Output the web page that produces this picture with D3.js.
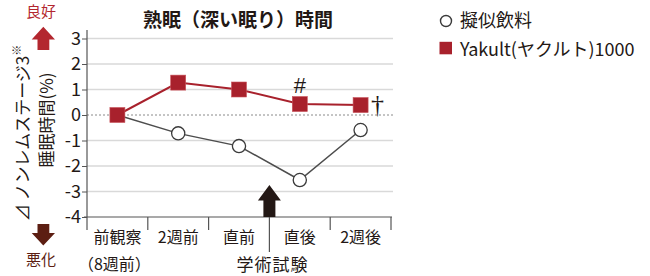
<!DOCTYPE html>
<html>
<head>
<meta charset="utf-8">
<script src="https://cdn.jsdelivr.net/npm/d3@7"></script>
<style>
  body { margin: 0; background: #fff; }
  text { font-family: "Noto Sans CJK JP", "Noto Sans", sans-serif; fill: #231815; }
</style>
</head>
<body>
<div id="chart"></div>
<script>
//////////////////////////////// data ////////////////////////////////
var categories = ["前観察", "2週前", "直前", "直後", "2週後"];
var subLabels = ["（8週前）", "", "", "", ""];
var placebo = [0, -0.72, -1.22, -2.55, -0.59];
var yakult = [0, 1.27, 1.0, 0.43, 0.39];
var yTicks = [3, 2, 1, 0, -1, -2, -3, -4];
var seriesNames = ["擬似飲料", "Yakult(ヤクルト)1000"];
var notes = [{ i: 3, mark: "#" }, { i: 4, mark: "†" }];

var width = 650, height = 276;
var red = "#a8212c", dark = "#5c1e12", grey = "#4d4d4d", good = "#b3272f";

var svg = d3.select("#chart").append("svg")
  .attr("width", width)
  .attr("height", height);

//////////////////////////////// scales ////////////////////////////////
var x = d3.scaleBand().domain(categories).range([87, 391]);
var y = d3.scaleLinear().domain([-4, 3]).range([217, 38.5]);
var cx = function(i) { return x(categories[i]) + x.bandwidth() / 2; };

// grid lines
svg.append("g").selectAll("line")
  .data(yTicks.filter(function(d) { return d !== 0 && d !== -4; }))
  .enter().append("line")
  .attr("x1", 87).attr("x2", 393)
  .attr("y1", function(d) { return y(d); })
  .attr("y2", function(d) { return y(d); })
  .attr("stroke", "#d9d9d9")
  .attr("stroke-width", 1.3);

svg.append("line")
  .attr("x1", 87).attr("x2", 393)
  .attr("y1", y(0)).attr("y2", y(0))
  .attr("stroke", "#8a8a8a")
  .attr("stroke-width", 1)
  .attr("stroke-dasharray", "2,2");

// y axis (plain hyphen for negatives, like the original)
var yAxis = svg.append("g")
  .attr("transform", "translate(87,0)")
  .call(d3.axisLeft(y).tickValues(yTicks).tickFormat(function(d) { return String(d); })
    .tickSizeInner(5).tickSizeOuter(0).tickPadding(1));
yAxis.select(".domain").remove();
yAxis.selectAll(".tick line").attr("stroke", "#555");
yAxis.selectAll(".tick text")
  .attr("font-size", 18)
  .attr("font-family", "'Noto Sans CJK JP', sans-serif");
svg.append("line")
  .attr("x1", 87).attr("x2", 87)
  .attr("y1", y(3.33)).attr("y2", y(-4))
  .attr("stroke", "#555").attr("stroke-width", 1.2);

// x axis
svg.append("line")
  .attr("x1", 84).attr("x2", 392)
  .attr("y1", y(-4)).attr("y2", y(-4))
  .attr("stroke", "#555").attr("stroke-width", 1.2);

var edges = categories.map(function(c) { return x(c); }).concat([x.range()[1]]);
svg.append("g").selectAll("line")
  .data(edges)
  .enter().append("line")
  .attr("x1", function(d) { return d; })
  .attr("x2", function(d) { return d; })
  .attr("y1", y(-4))
  .attr("y2", function(d, i) { return i === 3 ? 252 : 230; })
  .attr("stroke", "#555")
  .attr("stroke-width", 1.2);

svg.append("g").selectAll("text")
  .data(categories)
  .enter().append("text")
  .attr("x", function(d, i) { return cx(i); })
  .attr("y", 236)
  .attr("text-anchor", "middle")
  .attr("dominant-baseline", "central")
  .attr("font-size", 16)
  .text(function(d) { return d; });

svg.append("g").selectAll("text")
  .data(subLabels)
  .enter().append("text")
  .attr("x", function(d, i) { return cx(i) - 3; })
  .attr("y", 263)
  .attr("text-anchor", "middle")
  .attr("dominant-baseline", "central")
  .attr("font-size", 16)
  .text(function(d) { return d; });

svg.append("text")
  .attr("x", x(categories[3]) + 3)
  .attr("y", 263)
  .attr("text-anchor", "middle")
  .attr("dominant-baseline", "central")
  .attr("font-size", 17)
  .attr("letter-spacing", 1)
  .text("学術試験");

// exam arrow
var ax = x(categories[3]);
svg.append("path")
  .attr("d", d3.line()([[ax - 6, y(-4)], [ax - 6, 200.5], [ax - 11.5, 200.5], [ax, 185],
    [ax + 11.5, 200.5], [ax + 6, 200.5], [ax + 6, y(-4)]]) + "Z")
  .attr("fill", "#231815");

//////////////////////////////// series ////////////////////////////////
var line = d3.line()
  .x(function(d, i) { return cx(i); })
  .y(function(d) { return y(d); });

svg.append("path")
  .attr("d", line(placebo))
  .attr("fill", "none")
  .attr("stroke", grey)
  .attr("stroke-width", 1.5);

svg.append("path")
  .attr("d", line(yakult))
  .attr("fill", "none")
  .attr("stroke", red)
  .attr("stroke-width", 2);

svg.append("g").selectAll("circle")
  .data(placebo.slice(1))
  .enter().append("circle")
  .attr("cx", function(d, i) { return cx(i + 1); })
  .attr("cy", function(d) { return y(d); })
  .attr("r", 6.6)
  .attr("fill", "#fff")
  .attr("stroke", "#3a3a3a")
  .attr("stroke-width", 1.3);

svg.append("g").selectAll("rect")
  .data(yakult)
  .enter().append("rect")
  .attr("x", function(d, i) { return cx(i) - 7.5; })
  .attr("y", function(d) { return y(d) - 7.5; })
  .attr("width", 15).attr("height", 15)
  .attr("fill", red)
  .attr("stroke", "#c9545c")
  .attr("stroke-width", 0.6);

// significance marks
svg.append("text")
  .attr("x", cx(notes[0].i))
  .attr("y", y(yakult[notes[0].i]) - 19)
  .attr("text-anchor", "middle")
  .attr("dominant-baseline", "central")
  .attr("font-size", 22)
  .style("font-family", "'Liberation Sans', sans-serif")
  .text(notes[0].mark);
svg.append("text")
  .attr("x", cx(notes[1].i) + 17)
  .attr("y", y(yakult[notes[1].i]) - 1)
  .attr("text-anchor", "middle")
  .attr("dominant-baseline", "central")
  .attr("font-size", 26)
  .style("font-family", "'Liberation Serif', serif")
  .text(notes[1].mark);

//////////////////////////////// title ////////////////////////////////
svg.append("text")
  .attr("x", 238)
  .attr("y", 18)
  .attr("text-anchor", "middle")
  .attr("dominant-baseline", "central")
  .attr("font-size", 19)
  .attr("font-weight", "bold")
  .text("熟眠（深い眠り）時間");

//////////////////////////////// legend ////////////////////////////////
var legend = svg.append("g");
legend.append("circle")
  .attr("cx", 446).attr("cy", 21).attr("r", 5.5)
  .attr("fill", "#fff").attr("stroke", "#3a3a3a").attr("stroke-width", 1.4);
legend.append("rect")
  .attr("x", 439.5).attr("y", 41.8).attr("width", 12.5).attr("height", 12.5)
  .attr("fill", red);
legend.selectAll("text")
  .data(seriesNames)
  .enter().append("text")
  .attr("x", 460)
  .attr("y", function(d, i) { return 19 + i * 29; })
  .attr("dominant-baseline", "central")
  .attr("font-size", 18)
  .text(function(d) { return d; });

//////////////////////////////// left side ////////////////////////////////
svg.append("text")
  .attr("x", 41).attr("y", 10)
  .attr("text-anchor", "middle").attr("dominant-baseline", "central")
  .attr("font-size", 15).style("fill", good)
  .text("良好");
svg.append("path")
  .attr("d", "M43.3,26.7 L55,39.5 L49.3,39.5 L49.3,50 L37.5,50 L37.5,39.5 L31.7,39.5 Z")
  .attr("fill", good);

svg.append("path")
  .attr("d", "M37.5,224 L49.3,224 L49.3,233 L55,233 L43.3,245.5 L31.7,233 L37.5,233 Z")
  .attr("fill", dark);
svg.append("text")
  .attr("x", 41).attr("y", 258)
  .attr("text-anchor", "middle").attr("dominant-baseline", "central")
  .attr("font-size", 15).style("fill", dark)
  .text("悪化");

var yl1 = svg.append("text")
  .attr("transform", "translate(21,133) rotate(-90)")
  .attr("text-anchor", "middle").attr("dominant-baseline", "central")
  .attr("font-size", 17);
yl1.append("tspan").text("⊿ ノンレムステージ3");
yl1.append("tspan").attr("font-size", 11).attr("dy", -5).text("※");

svg.append("text")
  .attr("transform", "translate(45,120) rotate(-90)")
  .attr("text-anchor", "middle").attr("dominant-baseline", "central")
  .attr("font-size", 17)
  .text("睡眠時間(%)");
</script>
</body>
</html>
